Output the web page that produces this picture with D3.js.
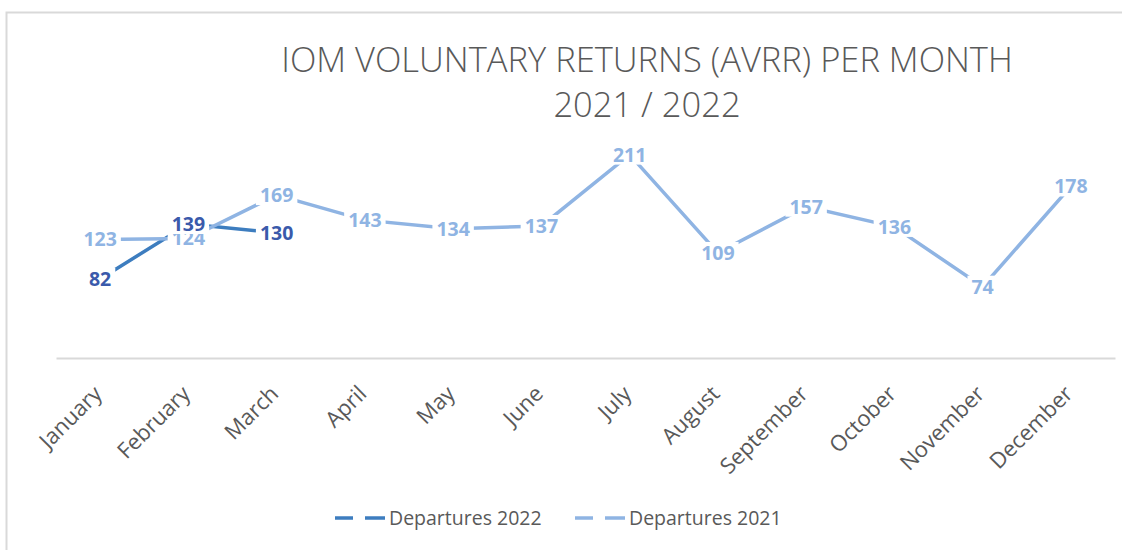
<!DOCTYPE html>
<html>
<head>
<meta charset="utf-8">
<script src="https://cdn.jsdelivr.net/npm/d3@7"></script>
<style>
  body { margin: 0; background: #fff; }
  text { font-family: "Open Sans", "Liberation Sans", sans-serif; }
</style>
</head>
<body>
<div id="viz"></div>
<script>
const width = 1122;
const height = 550;

// data
const months = ['January', 'February', 'March', 'April', 'May', 'June',
  'July', 'August', 'September', 'October', 'November', 'December'];
const departures2021 = [123, 124, 169, 143, 134, 137, 211, 109, 157, 136, 74, 178];
const departures2022 = [82, 139, 130];
const seriesNames = ['Departures 2022', 'Departures 2021'];
const titleLines = ['IOM VOLUNTARY RETURNS (AVRR) PER MONTH', '2021 / 2022'];

const color2021 = '#8fb4e3';
const line2022 = '#3d7dbf';
const label2022 = '#3a5aab';
const gray = '#595959';

const svg = d3.select('#viz')
  .append('svg')
    .attr('width', width)
    .attr('height', height);

// chart frame
svg.append('rect')
  .attr('x', 6.5)
  .attr('y', 12.5)
  .attr('width', width + 20)
  .attr('height', height + 20)
  .attr('fill', 'none')
  .attr('stroke', '#d9d9d9')
  .attr('stroke-width', 2);

const x = d3.scaleBand()
  .domain(months)
  .range([56, 1115]);

const y = d3.scaleLinear()
  .domain([0, 250])
  .range([358, 117]);

const cx = m => x(m) + x.bandwidth() / 2;

// x axis
const xAxis = svg.append('g')
  .attr('transform', `translate(0, ${y(0)})`)
  .call(d3.axisBottom(x).tickSize(0).tickSizeOuter(0));
xAxis.select('.domain')
  .attr('stroke', '#d9d9d9')
  .attr('stroke-width', 2);
xAxis.selectAll('.tick text')
  .attr('font-size', 22)
  .attr('font-family', '"Open Sans", sans-serif')
  .attr('fill', gray)
  .attr('text-anchor', 'end')
  .attr('dy', 0)
  .attr('transform', 'translate(1, 35) rotate(-45)');

// title
titleLines.forEach((t, i) => {
  svg.append('text')
    .attr('x', 647)
    .attr('y', i === 0 ? 72 : 117)
    .attr('text-anchor', 'middle')
    .attr('font-size', 34.5)
    .attr('font-weight', 300)
    .attr('fill', gray)
    .text(t);
});

const line = d3.line()
  .x((d, i) => cx(months[i]))
  .y(d => y(d));

svg.append('path')
  .attr('d', line(departures2022))
  .attr('fill', 'none')
  .attr('stroke', line2022)
  .attr('stroke-width', 3.5);

svg.append('path')
  .attr('d', line(departures2021))
  .attr('fill', 'none')
  .attr('stroke', color2021)
  .attr('stroke-width', 3.5);

// data labels with white boxes on top of the lines
const addLabels = (values, fill) => {
  const g = svg.append('g');
  values.forEach((v, i) => {
    const lg = g.append('g');
    const t = lg.append('text')
      .attr('x', cx(months[i]))
      .attr('y', y(v))
      .attr('dy', '0.36em')
      .attr('text-anchor', 'middle')
      .attr('font-size', 19.5)
      .attr('font-weight', 'bold')
      .attr('fill', fill)
      .text(v);
    const b = t.node().getBBox();
    lg.insert('rect', 'text')
      .attr('x', b.x - 4)
      .attr('y', b.y + 3)
      .attr('width', b.width + 8)
      .attr('height', b.height - 6)
      .attr('fill', '#fff');
  });
};
addLabels(departures2021, color2021);
addLabels(departures2022, label2022);

// legend
const legendX = [335, 575];
const legendColors = [line2022, color2021];
seriesNames.forEach((name, i) => {
  const lx = legendX[i];
  const ly = 518;
  [[0, 18], [30, 50]].forEach(seg => {
    svg.append('line')
      .attr('x1', lx + seg[0])
      .attr('x2', lx + seg[1])
      .attr('y1', ly)
      .attr('y2', ly)
      .attr('stroke', legendColors[i])
      .attr('stroke-width', 3.5);
  });
  svg.append('text')
    .attr('x', lx + 54)
    .attr('y', ly)
    .attr('dy', '0.35em')
    .attr('font-size', 19.5)
    .attr('fill', gray)
    .text(name);
});
</script>
</body>
</html>
